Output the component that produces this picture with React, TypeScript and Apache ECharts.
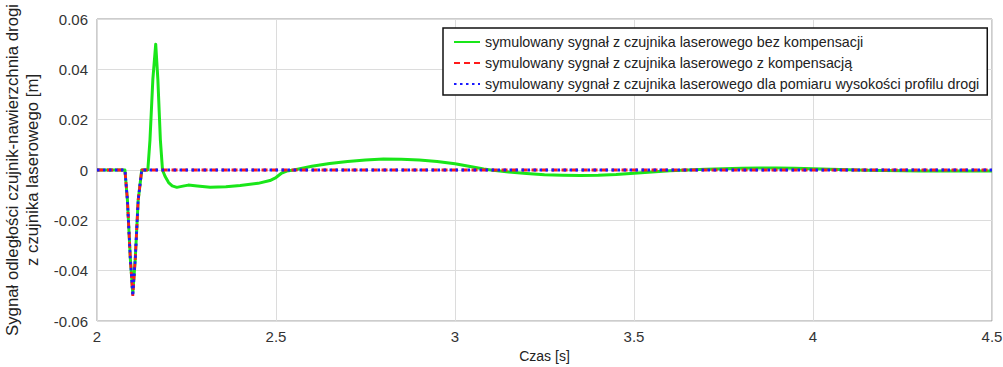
import React, { useEffect, useRef } from "react";
import * as echarts from "echarts";

const legendNames = [
  "symulowany sygnał z czujnika laserowego bez kompensacji",
  "symulowany sygnał z czujnika laserowego z kompensacją",
  "symulowany sygnał z czujnika laserowego dla pomiaru wysokości profilu drogi",
];

// green: without compensation (time [s], value [m])
const greenT = [
  2.0, 2.078, 2.085, 2.093, 2.1, 2.107, 2.115, 2.125, 2.142, 2.148, 2.156, 2.164, 2.17, 2.177, 2.183,
  2.19, 2.2, 2.21, 2.223, 2.24, 2.255, 2.28, 2.316, 2.36, 2.4, 2.45, 2.483, 2.5, 2.516, 2.53, 2.55,
  2.6, 2.65, 2.7, 2.75, 2.8, 2.85, 2.9, 2.95, 3.0, 3.05, 3.08, 3.1, 3.15, 3.2, 3.25, 3.3, 3.35, 3.4,
  3.45, 3.5, 3.55, 3.6, 3.65, 3.7, 3.75, 3.8, 3.85, 3.9, 3.95, 4.0, 4.05, 4.1, 4.15, 4.2, 4.3, 4.4, 4.5,
];
const greenV = [
  0, 0, -0.012, -0.035, -0.049, -0.035, -0.012, 0, 0, 0.012, 0.036, 0.05, 0.036, 0.012, 0,
  -0.0025, -0.005, -0.0063, -0.0069, -0.0064, -0.006, -0.0064, -0.0069, -0.0067, -0.0062, -0.0053, -0.0042, -0.003, -0.0012, -0.0004, 0,
  0.0015, 0.0026, 0.0034, 0.004, 0.0044, 0.0043, 0.004, 0.0034, 0.0025, 0.0012, 0.0004, 0, -0.0008, -0.0014, -0.0019, -0.0021, -0.0022, -0.0021,
  -0.0018, -0.0013, -0.0008, -0.0003, 0, 0.0003, 0.0005, 0.0007, 0.0008, 0.0008, 0.0007, 0.0005, 0.0003, 0.0001, -0.0001, -0.0002, -0.0004, -0.0004, -0.0004,
];

// red: with compensation
const redT = [2.0, 2.078, 2.085, 2.093, 2.1, 2.107, 2.115, 2.125, 4.5];
const redV = [0, 0, -0.012, -0.035, -0.05, -0.035, -0.012, 0, 0];

// blue: road profile measurement
const blueT = [2.0, 2.078, 2.085, 2.093, 2.1, 2.107, 2.115, 2.125, 4.5];
const blueV = [0, 0, -0.012, -0.035, -0.05, -0.035, -0.012, 0, 0];

const xTicks = ["2", "2.5", "3", "3.5", "4", "4.5"];

const zip = (t: number[], v: number[]) => t.map((x, i) => [x, v[i]]);

export default function App() {
  const ref = useRef<HTMLDivElement>(null);
  useEffect(() => {
    if (!ref.current) return;
    const chart = echarts.init(ref.current, null, { renderer: "svg" });
    const font = "Liberation Sans, Arial, sans-serif";
    chart.setOption({
      animation: false,
      backgroundColor: "#ffffff",
      grid: {
        left: 97,
        top: 19,
        right: 11,
        bottom: 46,
        containLabel: false,
        outerBoundsMode: "none",
        show: true,
        borderColor: "#9a9a9a",
        borderWidth: 1,
        backgroundColor: "transparent",
      },
      legend: {
        orient: "vertical",
        left: 443,
        top: 28,
        padding: [7, 8, 4, 10],
        itemWidth: 26,
        itemHeight: 14,
        itemGap: 7,
        borderColor: "#111",
        borderWidth: 1.5,
        backgroundColor: "#ffffff",
        borderRadius: 0,
        itemStyle: { opacity: 0 },
        textStyle: { fontFamily: font, fontSize: 14.3, color: "#222" },
        data: legendNames,
      },
      xAxis: {
        type: "value",
        min: 2,
        max: 4.5,
        interval: 0.5,
        name: "Czas [s]",
        nameLocation: "middle",
        nameGap: 28,
        nameTextStyle: { fontFamily: font, fontSize: 14, color: "#222" },
        axisLine: { show: false },
        axisTick: { show: false },
        axisLabel: {
          fontFamily: font,
          fontSize: 15,
          color: "#333",
          margin: 8,
          formatter: (v: number) => xTicks[Math.round((v - 2) / 0.5)] ?? String(v),
        },
        splitLine: { show: true, lineStyle: { color: "#dcdcdc", width: 1 } },
      },
      yAxis: {
        type: "value",
        min: -0.06,
        max: 0.06,
        interval: 0.02,
        name: "Sygnał odległości czujnik-nawierzchnia drogi\nz czujnika laserowego [m]",
        nameLocation: "middle",
        nameGap: 50,
        nameTextStyle: { fontFamily: font, fontSize: 16.8, color: "#222", lineHeight: 20 },
        axisLine: { show: false },
        axisTick: { show: false },
        axisLabel: {
          fontFamily: font,
          fontSize: 15,
          color: "#333",
          margin: 9,
          formatter: (v: number) => {
            const r = Math.round(v * 100) / 100;
            return r === 0 ? "0" : r.toFixed(2);
          },
        },
        splitLine: { show: true, lineStyle: { color: "#dcdcdc", width: 1 } },
      },
      series: [
        {
          name: legendNames[0],
          type: "line",
          data: zip(greenT, greenV),
          symbol: "none",
          smooth: false,
          lineStyle: { color: "#19e619", width: 3, join: "round" },
          itemStyle: { color: "#19e619" },
          z: 2,
        },
        {
          name: legendNames[1],
          type: "line",
          data: zip(redT, redV),
          symbol: "none",
          smooth: false,
          lineStyle: { color: "#ff1a1a", width: 2.8, type: [6, 4] },
          itemStyle: { color: "#ff1a1a" },
          z: 3,
        },
        {
          name: legendNames[2],
          type: "line",
          data: zip(blueT, blueV),
          symbol: "none",
          smooth: false,
          lineStyle: { color: "#1a1aff", width: 2.8, type: [2.5, 3.5] },
          itemStyle: { color: "#1a1aff" },
          z: 4,
        },
      ],
    });
    return () => chart.dispose();
  }, []);
  return (
    <div
      ref={ref}
      style={{ position: "absolute", left: 0, top: 0, width: 1003, height: 367 }}
    />
  );
}
